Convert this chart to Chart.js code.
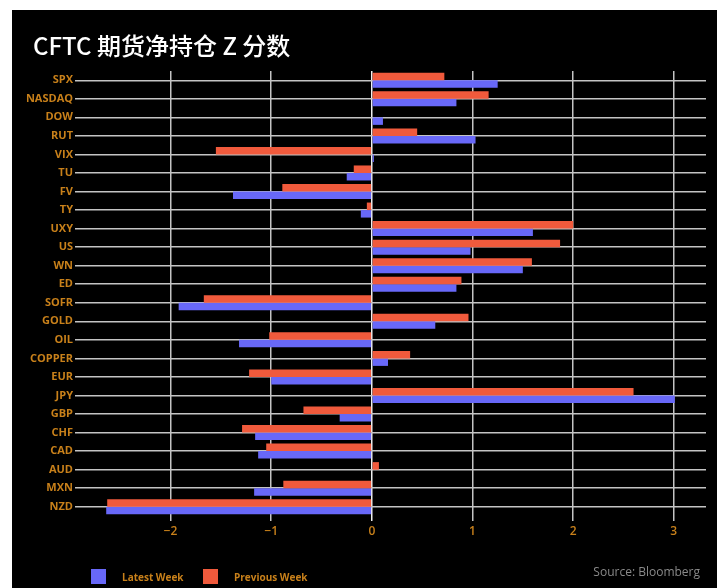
<!DOCTYPE html>
<html>
<head>
<meta charset="utf-8">
<script src="https://cdn.jsdelivr.net/npm/chart.js@4.4.1/dist/chart.umd.min.js"></script>
<style>
  html, body { margin:0; padding:0; background:#ffffff; width:719px; height:588px; overflow:hidden; }
  #panel { position:absolute; left:12px; top:10px; width:705px; height:578px; background:#000; }
  #wrap { position:absolute; left:0; top:0; width:705px; height:578px; }
  #title { position:absolute; left:21px; top:23px; color:#fff; font-family:"Noto Sans CJK SC","Noto Sans",sans-serif; font-weight:500; font-size:24px; line-height:24px; white-space:nowrap; }
  .leg { position:absolute; top:559px; height:15px; display:flex; align-items:center; font-family:"Open Sans",sans-serif; font-weight:700; font-size:10px; color:#c8801a; white-space:nowrap; }
  .leg span.box { display:inline-block; width:15px; height:15px; margin-right:16px; }
  #source { position:absolute; right:17px; top:553px; font-family:"Open Sans",sans-serif; font-size:12px; color:#8a8a8a; white-space:nowrap; }
</style>
</head>
<body>
<div id="panel">
  <div id="wrap"><canvas id="c"></canvas></div>
  <div id="title">CFTC 期货净持仓 Z 分数</div>
  <div class="leg" style="left:79px;"><span class="box" style="background:#6868f8"></span>Latest Week</div>
  <div class="leg" style="left:191px;"><span class="box" style="background:#f05a3c"></span>Previous Week</div>
  <div id="source">Source: Bloomberg</div>
</div>
<script>
const categories = ["SPX","NASDAQ","DOW","RUT","VIX","TU","FV","TY","UXY","US","WN","ED","SOFR","GOLD","OIL","COPPER","EUR","JPY","GBP","CHF","CAD","AUD","MXN","NZD"];
const previousWeek = [0.72, 1.16, 0.00, 0.45, -1.55, -0.18, -0.89, -0.05, 2.00, 1.87, 1.59, 0.89, -1.67, 0.96, -1.02, 0.38, -1.22, 2.60, -0.68, -1.29, -1.05, 0.07, -0.88, -2.63];
const latestWeek   = [1.25, 0.84, 0.11, 1.03, 0.02, -0.25, -1.38, -0.11, 1.60, 0.98, 1.50, 0.84, -1.92, 0.63, -1.32, 0.16, -1.00, 3.01, -0.32, -1.16, -1.13, 0.00, -1.17, -2.64];
const xTicks = [-2, -1, 0, 1, 2, 3];

const orange = "#c8801a";
new Chart(document.getElementById("c"), {
  type: "bar",
  data: {
    labels: categories,
    datasets: [
      { label: "Previous Week", data: previousWeek, backgroundColor: "#f05a3c", barPercentage: 1, categoryPercentage: 0.81 },
      { label: "Latest Week", data: latestWeek, backgroundColor: "#6868f8", barPercentage: 1, categoryPercentage: 0.81 }
    ]
  },
  options: {
    indexAxis: "y",
    responsive: true,
    maintainAspectRatio: false,
    animation: false,
    layout: { padding: { top: 61, right: 11, bottom: 42, left: 0 } },
    plugins: { legend: { display: false }, tooltip: { enabled: false } },
    scales: {
      x: {
        type: "linear",
        min: -2.95, max: 3.32,
        afterFit: s => { s.height = 30; },
        afterBuildTicks: s => { s.ticks = xTicks.map(v => ({ value: v })); },
        ticks: { includeBounds: false, color: orange, font: { family: "Open Sans", size: 12, weight: "600" }, padding: 3,
                 callback: v => (v < 0 ? "\u2212" + Math.abs(v) : String(v)) },
        grid: { color: ctx => (ctx.tick && ctx.tick.value === 0 ? "#f0f0f0" : "#c4c4c4"), lineWidth: 1.5, tickLength: 5, drawTicks: true },
        border: { display: false }
      },
      y: {
        afterFit: s => { s.width = 63; },
        ticks: { color: orange, font: { family: "Open Sans", size: 11, weight: "700" }, padding: 2, autoSkip: false },
        grid: { offset: false, color: "#c4c4c4", lineWidth: 1.5, drawTicks: false },
        border: { display: false }
      }
    }
  }
});
</script>
</body>
</html>
